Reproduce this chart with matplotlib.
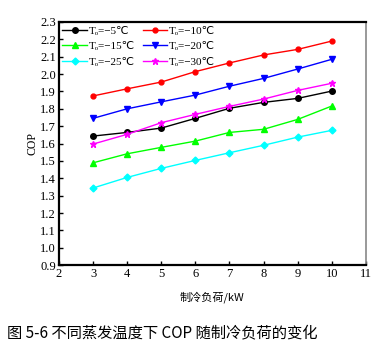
import matplotlib
matplotlib.use("Agg")
import matplotlib.pyplot as plt

plt.rcParams['font.family'] = ['Liberation Serif', 'DejaVu Sans', 'Noto Sans CJK SC']

loads = [3, 4, 5, 6, 7, 8, 9, 10]
cop_m5 = [1.643, 1.664, 1.689, 1.745, 1.803, 1.837, 1.860, 1.902]
cop_m10 = [1.874, 1.915, 1.954, 2.014, 2.064, 2.110, 2.142, 2.190]
cop_m15 = [1.489, 1.541, 1.578, 1.614, 1.664, 1.682, 1.739, 1.816]
cop_m20 = [1.745, 1.800, 1.840, 1.879, 1.930, 1.975, 2.029, 2.085]
cop_m25 = [1.344, 1.405, 1.457, 1.503, 1.547, 1.590, 1.637, 1.676]
cop_m30 = [1.597, 1.653, 1.720, 1.768, 1.814, 1.856, 1.906, 1.947]
labels = ['Tₒ=−5℃', 'Tₒ=−10℃', 'Tₒ=−15℃', 'Tₒ=−20℃', 'Tₒ=−25℃', 'Tₒ=−30℃']
xticks = [2, 3, 4, 5, 6, 7, 8, 9, 10, 11]
yticks = [0.9, 1.0, 1.1, 1.2, 1.3, 1.4, 1.5, 1.6, 1.7, 1.8, 1.9, 2.0, 2.1, 2.2, 2.3]

fig = plt.figure(figsize=(3.8, 3.54), dpi=100)
ax = fig.add_axes([0.155, 0.251, 0.808, 0.687])

series = [cop_m5, cop_m10, cop_m15, cop_m20, cop_m25, cop_m30]
colors = ['black', 'red', '#00ff00', 'blue', 'cyan', 'magenta']
markers = ['o', 'o', '^', 'v', 'D', '*']
msizes = [4, 3.5, 4, 4, 3.5, 5]
handles = []
for ys, c, m, ms, lab in zip(series, colors, markers, msizes, labels):
    h, = ax.plot(loads, ys, color=c, marker=m, markersize=ms, linewidth=1.0, label=lab)
    handles.append(h)

ax.set_xlim(2, 11)
ax.set_ylim(0.9, 2.3)
ax.set_xticks(xticks)
ax.set_yticks(yticks)
ax.set_yticklabels([f'{v:.1f}' for v in yticks])
ax.tick_params(direction='in', length=3, width=1, labelsize=9, pad=2,
               top=False, right=False)
for s in ['left', 'bottom', 'top']:
    ax.spines[s].set_linewidth(1.6)
    ax.spines[s].set_color('black')
ax.spines['right'].set_linewidth(1.2)
ax.spines['right'].set_color('#888888')

ax.set_ylabel('COP', fontsize=8.5, labelpad=1)
ax.set_xlabel('制冷负荷/kW', fontsize=8, labelpad=8,
              family=['Noto Sans CJK SC', 'DejaVu Sans'])

order = [0, 2, 4, 1, 3, 5]
ax.legend([handles[i] for i in order], [labels[i] for i in order],
          loc='upper left', ncol=2, frameon=False, fontsize=8,
          handlelength=2.2, columnspacing=0.7, handletextpad=0.15,
          labelspacing=0.5, borderaxespad=0.2, bbox_to_anchor=(-0.01, 1.01))

fig.text(0.018, 0.06, '图 5-6 不同蒸发温度下 COP 随制冷负荷的变化', fontsize=11,
         family=['Noto Sans CJK SC', 'DejaVu Sans'], ha='left', va='center')

fig.savefig('out.png', dpi=100)
